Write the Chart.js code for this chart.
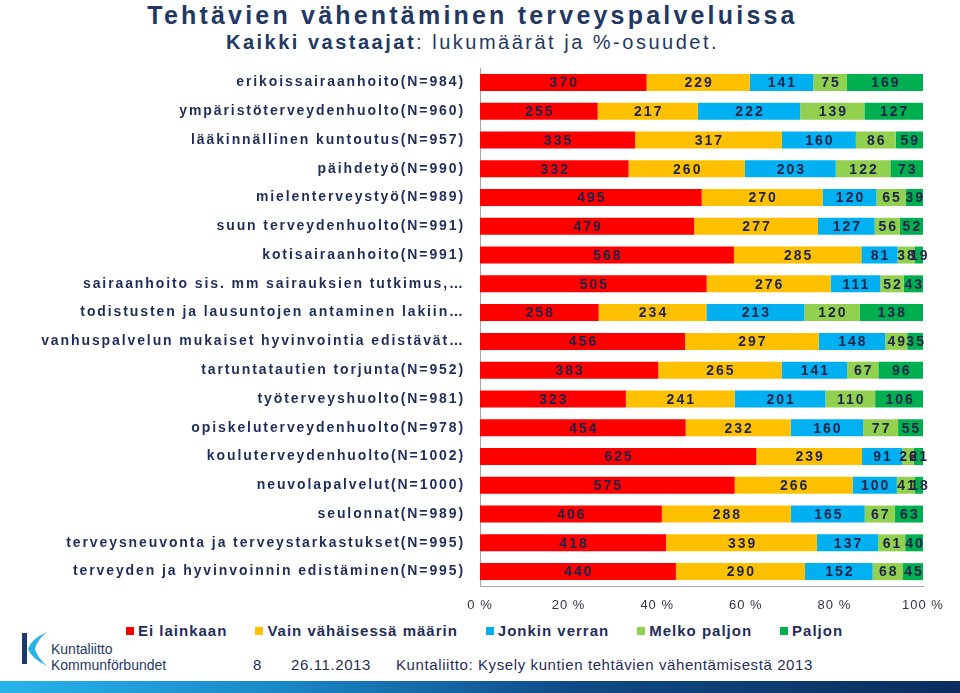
<!DOCTYPE html>
<html>
<head>
<meta charset="utf-8">
<script src="https://cdn.jsdelivr.net/npm/chart.js@4"></script>
<style>
  body { margin: 0; width: 960px; height: 693px; background: #fff; position: relative; overflow: hidden; font-family: "Liberation Sans", Arial, sans-serif; color: #1f3864; }
  .title { position: absolute; left: 0; width: 945px; text-align: center; top: 1px; font-size: 25px; font-weight: bold; letter-spacing: 3.2px; }
  .subtitle { position: absolute; left: 0; width: 945px; text-align: center; top: 31px; font-size: 20px; letter-spacing: 2.5px; }
  .subtitle b { font-weight: bold; }
  #chart { position: absolute; left: 0; top: 60px; }
  #legend { position: absolute; left: 126px; top: 622px; display: flex; gap: 28px; font-size: 15px; font-weight: bold; letter-spacing: 1px; color: #1f2d5a; }
  #legend .item { display: flex; align-items: center; }
  #legend .dot { width: 8px; height: 8px; margin-right: 4px; }
  .foot { position: absolute; top: 656px; font-size: 15px; letter-spacing: 0.6px; color: #1f2d5a; }
  .logotext { position: absolute; left: 51px; font-size: 14px; color: #1f3a6a; }
  .band { position: absolute; left: 0; top: 681px; width: 960px; height: 12px; background: linear-gradient(90deg, #27b4e8 0%, #1a86c6 30%, #0f4a85 60%, #0b2c5c 100%); }
</style>
</head>
<body>
<div class="title">Tehtävien vähentäminen terveyspalveluissa</div>
<div class="subtitle"><b>Kaikki vastaajat</b>: lukumäärät ja %-osuudet.</div>
<canvas id="chart" width="960" height="556"></canvas>
<div id="legend"></div>

<svg style="position:absolute;left:0;top:620px" width="60" height="60">
  <rect x="22" y="13" width="5" height="31" fill="#1b3a6b"></rect>
  <path d="M47,12 Q31,19 28,29 Q31,38 47,46 Q37,37 35,29 Q37,20 47,12 Z" fill="#2ab3e6"></path>
</svg>
<div class="logotext" style="top:641px">Kuntaliitto</div>
<div class="logotext" style="top:657px">Kommunförbundet</div>

<div class="foot" style="left:253px">8</div>
<div class="foot" style="left:291px">26.11.2013</div>
<div class="foot" style="left:396px">Kuntaliitto: Kysely kuntien tehtävien vähentämisestä 2013</div>
<div class="band"></div>

<script>
const categories = [
  "erikoissairaanhoito(N=984)",
  "ympäristöterveydenhuolto(N=960)",
  "lääkinnällinen kuntoutus(N=957)",
  "päihdetyö(N=990)",
  "mielenterveystyö(N=989)",
  "suun terveydenhuolto(N=991)",
  "kotisairaanhoito(N=991)",
  "sairaanhoito sis. mm sairauksien tutkimus,…",
  "todistusten ja lausuntojen antaminen lakiin…",
  "vanhuspalvelun mukaiset hyvinvointia edistävät…",
  "tartuntatautien torjunta(N=952)",
  "työterveyshuolto(N=981)",
  "opiskeluterveydenhuolto(N=978)",
  "kouluterveydenhuolto(N=1002)",
  "neuvolapalvelut(N=1000)",
  "seulonnat(N=989)",
  "terveysneuvonta ja terveystarkastukset(N=995)",
  "terveyden ja hyvinvoinnin edistäminen(N=995)"
];
const eiLainkaan   = [370, 255, 335, 332, 495, 479, 568, 505, 258, 456, 383, 323, 454, 625, 575, 406, 418, 440];
const vainVahan    = [229, 217, 317, 260, 270, 277, 285, 276, 234, 297, 265, 241, 232, 239, 266, 288, 339, 290];
const jonkinVerran = [141, 222, 160, 203, 120, 127,  81, 111, 213, 148, 141, 201, 160,  91, 100, 165, 137, 152];
const melkoPaljon  = [ 75, 139,  86, 122,  65,  56,  38,  52, 120,  49,  67, 110,  77,  26,  41,  67,  61,  68];
const paljon       = [169, 127,  59,  73,  39,  52,  19,  43, 138,  35,  96, 106,  55,  21,  18,  63,  40,  45];

const seriesNames  = ["Ei lainkaan", "Vain vähäisessä määrin", "Jonkin verran", "Melko paljon", "Paljon"];
const seriesColors = ["#ff0000", "#ffc000", "#00b0f0", "#92d050", "#00b050"];
const xTicks = [0, 20, 40, 60, 80, 100];

const series = [eiLainkaan, vainVahan, jonkinVerran, melkoPaljon, paljon];

// rivisummat -> prosentit (100 % pinottu)
const totals = categories.map((c, i) => series.reduce((s, arr) => s + arr[i], 0));

const datasets = series.map((arr, k) => ({
  label: seriesNames[k],
  counts: arr,
  data: arr.map((v, i) => v / totals[i] * 100),
  backgroundColor: seriesColors[k],
  borderWidth: 0,
  barPercentage: 0.59,
  categoryPercentage: 1
}));

// letter-spacing per akseli (drawLabels kutsutaan layerista)
const spacingPlugin = {
  id: "spacing",
  afterLayout(chart) {
    Object.values(chart.scales).forEach(scale => {
      if (scale._spaced) return;
      const orig = scale.drawLabels;
      const sp = scale.axis === "y" ? "1.9px" : "1px";
      scale.drawLabels = function (area) {
        const ctx = this.ctx;
        ctx.save();
        ctx.letterSpacing = sp;
        orig.call(this, area);
        ctx.restore();
      };
      scale._spaced = true;
    });
  }
};

// lukumäärät palkkien keskelle
const valueLabels = {
  id: "valueLabels",
  afterDatasetsDraw(chart) {
    const ctx = chart.ctx;
    ctx.save();
    ctx.font = 'bold 14px "Liberation Sans"';
    ctx.letterSpacing = "2px";
    ctx.fillStyle = "#1e2448";
    ctx.textAlign = "center";
    ctx.textBaseline = "middle";
    chart.data.datasets.forEach((ds, i) => {
      chart.getDatasetMeta(i).data.forEach((bar, j) => {
        const p = bar.getCenterPoint();
        ctx.fillText(ds.counts[j], p.x + 1, p.y + 1);
      });
    });
    ctx.restore();
  }
};

new Chart(document.getElementById("chart"), {
  type: "bar",
  data: { labels: categories, datasets },
  options: {
    indexAxis: "y",
    responsive: false,
    animation: false,
    devicePixelRatio: 1,
    layout: { padding: { top: 8, right: 37, left: 0, bottom: 0 } },
    plugins: {
      legend: { display: false },
      tooltip: { enabled: false }
    },
    scales: {
      x: {
        stacked: true,
        min: 0,
        max: 100,
        afterBuildTicks: s => { s.ticks = xTicks.map(v => ({ value: v })); },
        grid: { display: false, drawTicks: false },
        border: { display: true, color: "#a9a6c4", width: 1 },
        ticks: {
          padding: 12,
          color: "#333344",
          font: { family: "Liberation Sans", size: 13 },
          callback: v => v + " %"
        },
        afterFit: s => { s.height = 30; }
      },
      y: {
        stacked: true,
        grid: { display: false, drawTicks: false },
        border: { display: true, color: "#a6a6a6", width: 1 },
        ticks: {
          padding: 15,
          autoSkip: false,
          color: "#1f2d5a",
          font: { family: "Liberation Sans", size: 14, weight: "bold" }
        },
        afterFit: s => { s.width = 480; s.paddingTop = 0; s.paddingBottom = 0; }
      }
    }
  },
  plugins: [spacingPlugin, valueLabels]
});

// oma selite
document.getElementById("legend").innerHTML = seriesNames.map((n, k) =>
  `<div class="item"><span class="dot" style="background:${seriesColors[k]}"></span>${n}</div>`
).join("");
</script>
</body>
</html>
